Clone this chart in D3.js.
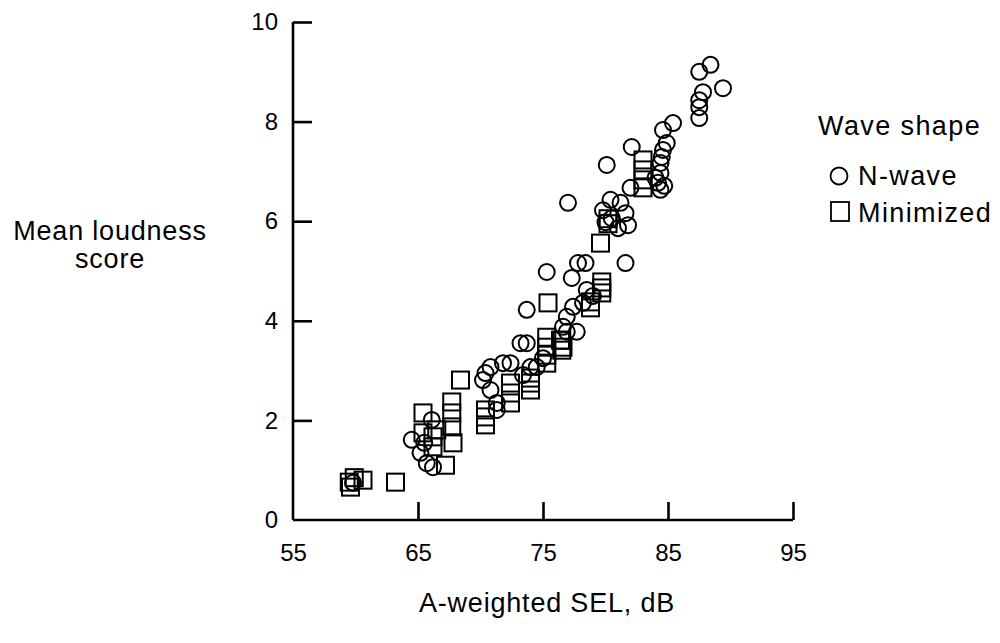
<!DOCTYPE html>
<html>
<head>
<meta charset="utf-8">
<script src="https://cdn.jsdelivr.net/npm/d3@7"></script>
<style>
  body { margin: 0; background: #fff; }
  text { font-family: "Liberation Sans", Arial, Helvetica, sans-serif; fill: #000; }
</style>
</head>
<body>
<div id="chart"></div>
<script>
'use strict';

// N-wave booms (circles)
var nWaveSel = [88.4, 87.5, 89.4, 87.8, 87.5, 87.5, 87.5, 85.4, 84.6, 84.9, 84.6, 84.5, 84.4, 84.4, 84.2, 84.4,
  84.0, 84.7, 82.1, 80.1, 82.0, 80.4, 81.2, 79.8, 81.6, 80.5, 81.8, 81.0, 80.0, 77.0, 77.8, 78.4, 81.6, 77.3,
  78.5, 78.2, 77.4, 76.9, 76.6, 75.3, 73.7, 73.2, 73.7, 76.9, 77.7, 72.4, 71.8, 70.8, 70.4, 70.2, 74.0, 74.5,
  73.4, 70.8, 71.3, 71.3, 64.5, 66.1, 65.2, 65.7, 66.2, 59.8, 75.0, 65.5, 79.0]
var nWaveScore = [9.14, 9.0, 8.67, 8.59, 8.43, 8.29, 8.07, 7.97, 7.83, 7.57, 7.43, 7.29, 7.17, 6.97, 6.77, 6.63,
  6.87, 6.71, 7.49, 7.13, 6.67, 6.43, 6.37, 6.22, 6.16, 6.06, 5.92, 5.86, 5.98, 6.37, 5.16, 5.16, 5.16, 4.86,
  4.62, 4.36, 4.28, 4.08, 3.88, 4.98, 4.22, 3.55, 3.55, 3.78, 3.78, 3.15, 3.15, 3.07, 2.95, 2.81, 3.07, 3.07,
  2.91, 2.61, 2.35, 2.21, 1.61, 2.01, 1.35, 1.14, 1.06, 0.75, 3.25, 1.55, 4.5]

// minimized booms (squares)
var minSel = [83.0, 83.0, 83.0, 83.0, 79.6, 79.7, 79.7, 79.7, 78.8, 78.8, 76.4, 76.6, 75.4, 75.3, 75.3, 75.3,
  75.3, 76.5, 76.5, 74.0, 74.0, 72.4, 72.4, 72.4, 70.4, 70.4, 70.4, 68.4, 67.7, 67.7, 67.7, 67.8, 65.4, 66.2,
  66.2, 67.2, 65.4, 66.5, 63.2, 59.5, 59.9, 60.6, 59.6, 80.2, 80.2, 74.0]
var minScore = [7.23, 7.03, 6.83, 6.67, 5.56, 4.78, 4.66, 4.56, 4.38, 4.26, 3.61, 3.47, 4.36, 3.67, 3.47, 3.31,
  3.15, 3.61, 3.41, 2.75, 2.61, 2.75, 2.55, 2.35, 2.21, 2.07, 1.91, 2.81, 2.37, 2.15, 1.87, 1.55, 2.15, 1.47,
  1.67, 1.1, 1.75, 1.81, 0.76, 0.76, 0.85, 0.8, 0.66, 6.05, 5.95, 2.85]

var xTicks = [55, 65, 75, 85, 95]
var yTicks = [0, 2, 4, 6, 8, 10]

var svgWidth = 1000,
    svgHeight = 643

var svg = d3.select('#chart').append('svg')
    .attr('width', svgWidth)
    .attr('height', svgHeight)

var x = d3.scaleLinear().domain([55, 95]).range([293, 793])
var y = d3.scaleLinear().domain([0, 10]).range([520, 22])

// axes: ticks point inward
var xAxis = d3.axisBottom(x).tickValues(xTicks).tickSize(-18).tickPadding(24)
var yAxis = d3.axisLeft(y).tickValues(yTicks).tickSize(-19).tickPadding(15)

var gx = svg.append('g').attr('transform', 'translate(0,' + y(0) + ')').call(xAxis)
var gy = svg.append('g').attr('transform', 'translate(' + x(55) + ',0)').call(yAxis)

;[gx, gy].forEach(function(g) {
  g.select('.domain').attr('stroke', '#000').attr('stroke-width', 2.6)
  g.selectAll('.tick line').attr('stroke', '#000').attr('stroke-width', 2.6)
  g.selectAll('.tick text')
    .style('font-family', '"Liberation Sans", Arial, sans-serif')
    .style('font-size', '24px')
    .attr('fill', '#000')
})
gx.select('.domain').attr('d', 'M' + x(55) + ',0H' + x(95))
gy.select('.domain').attr('d', 'M0,' + y(0) + 'V' + y(10))
gx.selectAll('.tick').filter(function(d) { return d === 55 }).select('line').remove()
gy.selectAll('.tick').filter(function(d) { return d === 0 }).select('line').remove()

var nWave = nWaveSel.map(function(d, i) { return [d, nWaveScore[i]] })
var minimized = minSel.map(function(d, i) { return [d, minScore[i]] })

svg.append('g').selectAll('rect')
    .data(minimized)
  .enter().append('rect')
    .attr('x', function(d) { return x(d[0]) - 8.5 })
    .attr('y', function(d) { return y(d[1]) - 8.5 })
    .attr('width', 17)
    .attr('height', 17)
    .attr('fill', 'none')
    .attr('stroke', '#000')
    .attr('stroke-width', 2)

svg.append('g').selectAll('circle')
    .data(nWave)
  .enter().append('circle')
    .attr('cx', function(d) { return x(d[0]) })
    .attr('cy', function(d) { return y(d[1]) })
    .attr('r', 8)
    .attr('fill', 'none')
    .attr('stroke', '#000')
    .attr('stroke-width', 2)

// axis titles
var titleStyle = function(t) {
  t.style('font-size', '27px').style('letter-spacing', '0.8px').attr('text-anchor', 'middle')
}
svg.append('text').attr('x', 110).attr('y', 240).text('Mean loudness').call(titleStyle)
svg.append('text').attr('x', 110).attr('y', 268).text('score').call(titleStyle)
svg.append('text').attr('x', 547).attr('y', 612).text('A-weighted SEL, dB').call(titleStyle)

// legend
var legendFont = function(t) {
  t.style('font-size', '27px').style('letter-spacing', '1.4px')
}
var legend = svg.append('g')
legend.append('text').attr('x', 818).attr('y', 135).text('Wave shape').call(legendFont)
legend.append('circle').attr('cx', 839).attr('cy', 176).attr('r', 8.5)
    .attr('fill', 'none').attr('stroke', '#000').attr('stroke-width', 1.8)
legend.append('text').attr('x', 858).attr('y', 185).text('N-wave').call(legendFont)
legend.append('rect').attr('x', 831).attr('y', 202).attr('width', 18).attr('height', 19)
    .attr('fill', 'none').attr('stroke', '#000').attr('stroke-width', 1.8)
legend.append('text').attr('x', 858).attr('y', 222).text('Minimized').call(legendFont)
</script>
</body>
</html>
